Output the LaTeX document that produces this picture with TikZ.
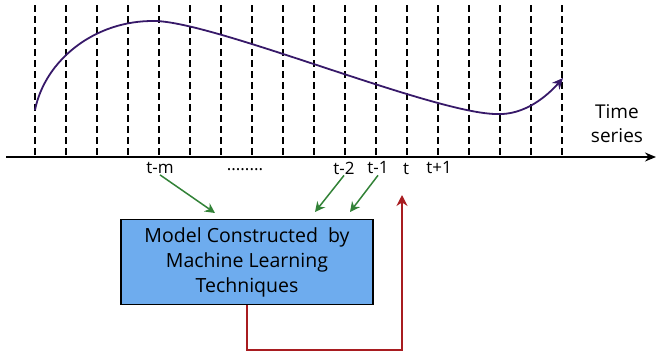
\documentclass[tikz,border=0pt]{standalone}
\usepackage{fontspec}
\setmainfont{Open Sans}
\usepackage{tikz}
\usetikzlibrary{arrows.meta,calc,positioning}
\definecolor{boxblue}{RGB}{110,172,238}
\definecolor{curvepurple}{RGB}{55,25,105}
\definecolor{feedred}{RGB}{168,28,32}
\definecolor{inputgreen}{RGB}{50,130,55}

\begin{document}
\begin{tikzpicture}[x=1pt,y=-1pt,>=Stealth,
    tick/.style={font=\fontsize{17}{19}\selectfont,inner sep=1pt},
    inarrow/.style={line width=1.5pt,inputgreen,-{Stealth[length=10pt,width=10pt]}},
    modelbox/.style={draw=black,line width=1.5pt,fill=boxblue,minimum width=252pt,
        minimum height=85pt,align=center,font=\fontsize{19.5}{25}\selectfont}]
  \useasboundingbox (0,0) rectangle (657,357);
  % vertical time grid
  \foreach \k in {0,...,17}{
     \draw[dash pattern=on 7pt off 4pt,line width=1.3pt] ({35+31*\k},5) -- ({35+31*\k},157);
  }
  % time axis
  \draw[line width=1.6pt,-{Stealth[length=11pt,width=9pt]}] (6,157) -- (656,157);
  % the series itself
  \draw[line width=1.8pt,curvepurple,-{Stealth[length=11pt,width=10pt]}]
     (35,110) .. controls (45,60) and (95,20) .. (155,21)
     .. controls (215,22) and (430,112) .. (495,114)
     .. controls (525,116) and (548,95) .. (563,78);
  \node[align=center,font=\fontsize{19}{24}\selectfont] (series) at (617,124) {Time\\series};
  % labels under the axis
  \node[tick] (lblm) at (160,168) {t-m};
  \node[tick] (lbldots) at (245,170) {........};
  \node[tick] (lbltwo) at (344,168) {t-2};
  \node[tick] (lblone) at (378,168) {t-1};
  \node[tick] (lblt) at (406,169) {t};
  \node[tick] (lblnext) at (439,168) {t+1};
  % the model
  \node[modelbox] (model) at (247,262) {Model Constructed\ \ by\\Machine Learning\\Techniques};
  \coordinate (inm) at (215,213);
  \coordinate (intwo) at (315,212);
  \coordinate (inone) at (350,212);
  \draw[inarrow] (lblm.south) -- (inm);
  \draw[inarrow] (lbltwo.south) -- (intwo);
  \draw[inarrow] (lblone.south) -- (inone);
  % prediction fed back to t
  \coordinate (predt) at (402,195);
  \draw[line width=1.5pt,feedred,-{Stealth[length=11pt,width=11pt]}] (model.south) -- (model.south |- 0,350)
       -- (predt |- 0,350) -- (predt);
\end{tikzpicture}
\end{document}
